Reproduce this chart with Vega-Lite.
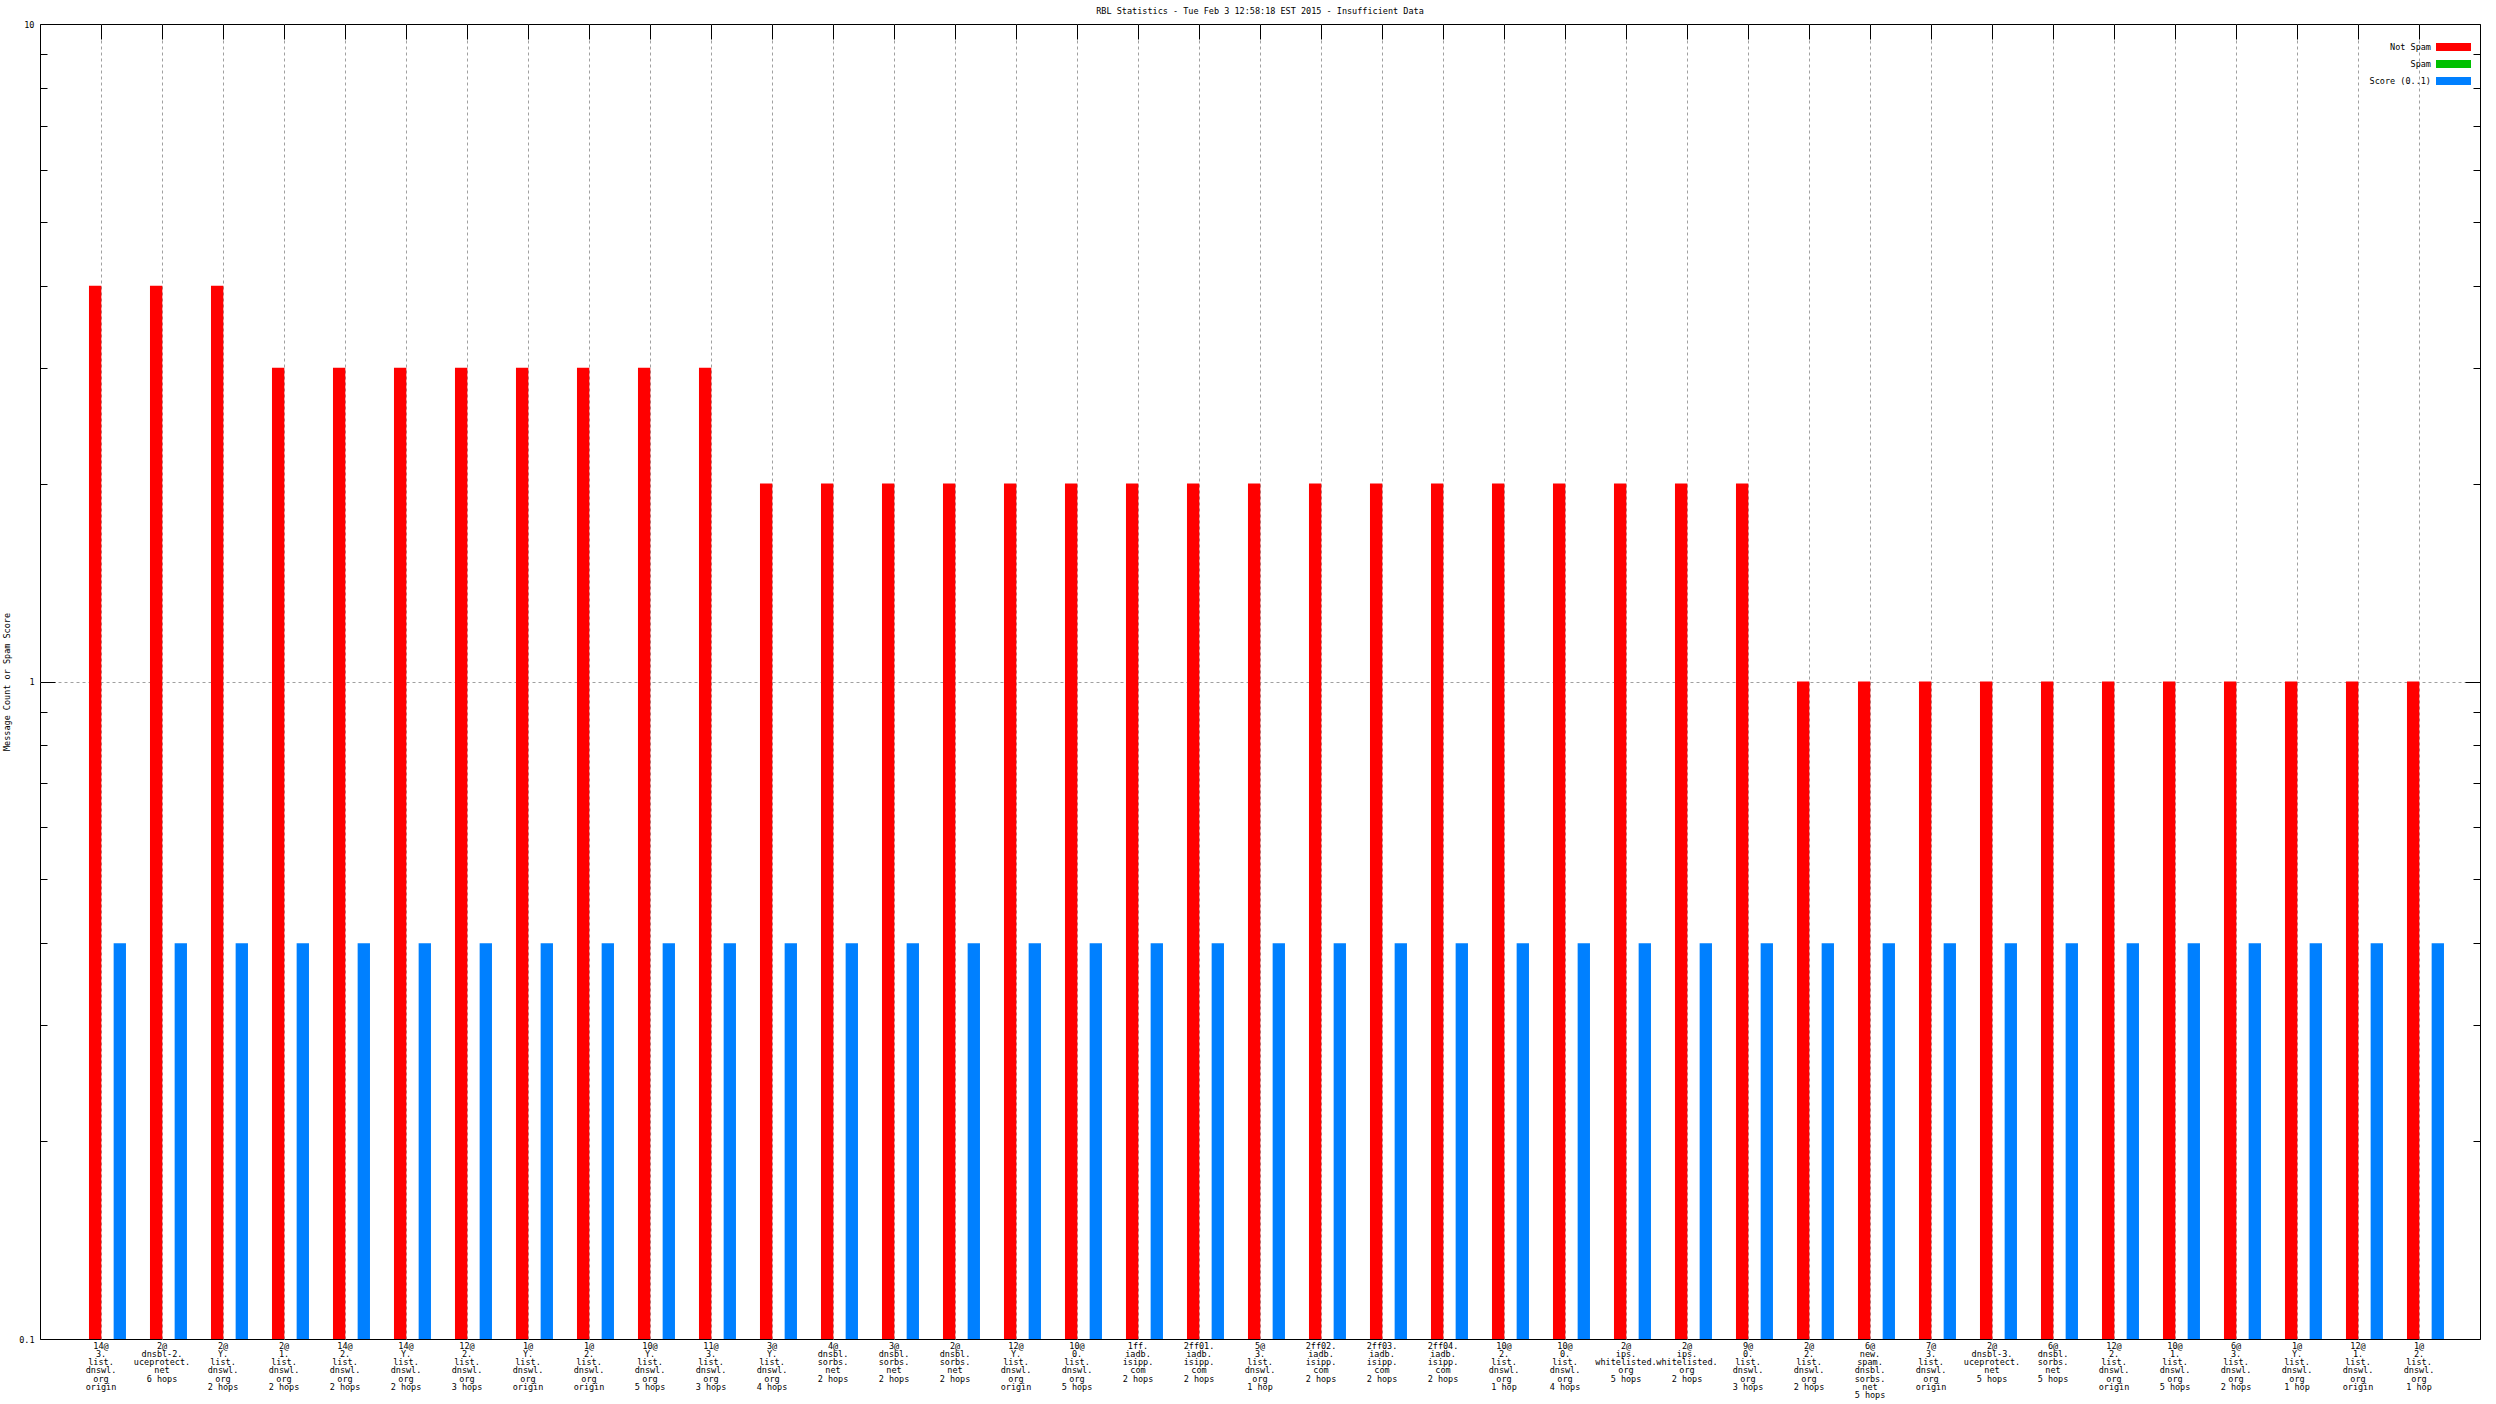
{
  "$schema": "https://vega.github.io/schema/vega-lite/v6.json",
  "width": 2440,
  "height": 1315,
  "autosize": {"type": "none"},
  "padding": {"left": 40, "top": 24, "right": 16, "bottom": 65},
  "background": "white",
  "config": {
    "view": {"stroke": "black", "strokeWidth": 1},
    "font": "DejaVu Sans Mono",
    "axis": {"labelFont": "DejaVu Sans Mono", "labelFontSize": 8.5, "labelColor": "black", "titleFont": "DejaVu Sans Mono", "titleFontSize": 8.5, "titleFontWeight": "normal", "titleColor": "black"},
    "legend": {"labelFont": "DejaVu Sans Mono", "labelFontSize": 8.5, "labelColor": "black"}
  },
  "title": {"text": "RBL Statistics - Tue Feb  3 12:58:18 EST 2015 - Insufficient Data", "anchor": "middle", "font": "DejaVu Sans Mono", "fontSize": 8.5, "fontWeight": "normal", "color": "black", "offset": 9, "dy": 11, "baseline": "alphabetic"},
  "data": {"values": [
    {"host": "14@|3.|list.|dnswl.|org|origin", "series": "Not Spam", "value": 4},
    {"host": "14@|3.|list.|dnswl.|org|origin", "series": "Score (0..1)", "value": 0.4},
    {"host": "2@|dnsbl-2.|uceprotect.|net|6 hops", "series": "Not Spam", "value": 4},
    {"host": "2@|dnsbl-2.|uceprotect.|net|6 hops", "series": "Score (0..1)", "value": 0.4},
    {"host": "2@|Y.|list.|dnswl.|org|2 hops", "series": "Not Spam", "value": 4},
    {"host": "2@|Y.|list.|dnswl.|org|2 hops", "series": "Score (0..1)", "value": 0.4},
    {"host": "2@|1.|list.|dnswl.|org|2 hops", "series": "Not Spam", "value": 3},
    {"host": "2@|1.|list.|dnswl.|org|2 hops", "series": "Score (0..1)", "value": 0.4},
    {"host": "14@|2.|list.|dnswl.|org|2 hops", "series": "Not Spam", "value": 3},
    {"host": "14@|2.|list.|dnswl.|org|2 hops", "series": "Score (0..1)", "value": 0.4},
    {"host": "14@|Y.|list.|dnswl.|org|2 hops", "series": "Not Spam", "value": 3},
    {"host": "14@|Y.|list.|dnswl.|org|2 hops", "series": "Score (0..1)", "value": 0.4},
    {"host": "12@|2.|list.|dnswl.|org|3 hops", "series": "Not Spam", "value": 3},
    {"host": "12@|2.|list.|dnswl.|org|3 hops", "series": "Score (0..1)", "value": 0.4},
    {"host": "1@|Y.|list.|dnswl.|org|origin", "series": "Not Spam", "value": 3},
    {"host": "1@|Y.|list.|dnswl.|org|origin", "series": "Score (0..1)", "value": 0.4},
    {"host": "1@|2.|list.|dnswl.|org|origin", "series": "Not Spam", "value": 3},
    {"host": "1@|2.|list.|dnswl.|org|origin", "series": "Score (0..1)", "value": 0.4},
    {"host": "10@|Y.|list.|dnswl.|org|5 hops", "series": "Not Spam", "value": 3},
    {"host": "10@|Y.|list.|dnswl.|org|5 hops", "series": "Score (0..1)", "value": 0.4},
    {"host": "11@|3.|list.|dnswl.|org|3 hops", "series": "Not Spam", "value": 3},
    {"host": "11@|3.|list.|dnswl.|org|3 hops", "series": "Score (0..1)", "value": 0.4},
    {"host": "3@|Y.|list.|dnswl.|org|4 hops", "series": "Not Spam", "value": 2},
    {"host": "3@|Y.|list.|dnswl.|org|4 hops", "series": "Score (0..1)", "value": 0.4},
    {"host": "4@|dnsbl.|sorbs.|net|2 hops", "series": "Not Spam", "value": 2},
    {"host": "4@|dnsbl.|sorbs.|net|2 hops", "series": "Score (0..1)", "value": 0.4},
    {"host": "3@|dnsbl.|sorbs.|net|2 hops", "series": "Not Spam", "value": 2},
    {"host": "3@|dnsbl.|sorbs.|net|2 hops", "series": "Score (0..1)", "value": 0.4},
    {"host": "2@|dnsbl.|sorbs.|net|2 hops", "series": "Not Spam", "value": 2},
    {"host": "2@|dnsbl.|sorbs.|net|2 hops", "series": "Score (0..1)", "value": 0.4},
    {"host": "12@|Y.|list.|dnswl.|org|origin", "series": "Not Spam", "value": 2},
    {"host": "12@|Y.|list.|dnswl.|org|origin", "series": "Score (0..1)", "value": 0.4},
    {"host": "10@|0.|list.|dnswl.|org|5 hops", "series": "Not Spam", "value": 2},
    {"host": "10@|0.|list.|dnswl.|org|5 hops", "series": "Score (0..1)", "value": 0.4},
    {"host": "1ff.|iadb.|isipp.|com|2 hops", "series": "Not Spam", "value": 2},
    {"host": "1ff.|iadb.|isipp.|com|2 hops", "series": "Score (0..1)", "value": 0.4},
    {"host": "2ff01.|iadb.|isipp.|com|2 hops", "series": "Not Spam", "value": 2},
    {"host": "2ff01.|iadb.|isipp.|com|2 hops", "series": "Score (0..1)", "value": 0.4},
    {"host": "5@|3.|list.|dnswl.|org|1 hop", "series": "Not Spam", "value": 2},
    {"host": "5@|3.|list.|dnswl.|org|1 hop", "series": "Score (0..1)", "value": 0.4},
    {"host": "2ff02.|iadb.|isipp.|com|2 hops", "series": "Not Spam", "value": 2},
    {"host": "2ff02.|iadb.|isipp.|com|2 hops", "series": "Score (0..1)", "value": 0.4},
    {"host": "2ff03.|iadb.|isipp.|com|2 hops", "series": "Not Spam", "value": 2},
    {"host": "2ff03.|iadb.|isipp.|com|2 hops", "series": "Score (0..1)", "value": 0.4},
    {"host": "2ff04.|iadb.|isipp.|com|2 hops", "series": "Not Spam", "value": 2},
    {"host": "2ff04.|iadb.|isipp.|com|2 hops", "series": "Score (0..1)", "value": 0.4},
    {"host": "10@|2.|list.|dnswl.|org|1 hop", "series": "Not Spam", "value": 2},
    {"host": "10@|2.|list.|dnswl.|org|1 hop", "series": "Score (0..1)", "value": 0.4},
    {"host": "10@|0.|list.|dnswl.|org|4 hops", "series": "Not Spam", "value": 2},
    {"host": "10@|0.|list.|dnswl.|org|4 hops", "series": "Score (0..1)", "value": 0.4},
    {"host": "2@|ips.|whitelisted.|org|5 hops", "series": "Not Spam", "value": 2},
    {"host": "2@|ips.|whitelisted.|org|5 hops", "series": "Score (0..1)", "value": 0.4},
    {"host": "2@|ips.|whitelisted.|org|2 hops", "series": "Not Spam", "value": 2},
    {"host": "2@|ips.|whitelisted.|org|2 hops", "series": "Score (0..1)", "value": 0.4},
    {"host": "9@|0.|list.|dnswl.|org|3 hops", "series": "Not Spam", "value": 2},
    {"host": "9@|0.|list.|dnswl.|org|3 hops", "series": "Score (0..1)", "value": 0.4},
    {"host": "2@|2.|list.|dnswl.|org|2 hops", "series": "Not Spam", "value": 1},
    {"host": "2@|2.|list.|dnswl.|org|2 hops", "series": "Score (0..1)", "value": 0.4},
    {"host": "6@|new.|spam.|dnsbl.|sorbs.|net|5 hops", "series": "Not Spam", "value": 1},
    {"host": "6@|new.|spam.|dnsbl.|sorbs.|net|5 hops", "series": "Score (0..1)", "value": 0.4},
    {"host": "7@|3.|list.|dnswl.|org|origin", "series": "Not Spam", "value": 1},
    {"host": "7@|3.|list.|dnswl.|org|origin", "series": "Score (0..1)", "value": 0.4},
    {"host": "2@|dnsbl-3.|uceprotect.|net|5 hops", "series": "Not Spam", "value": 1},
    {"host": "2@|dnsbl-3.|uceprotect.|net|5 hops", "series": "Score (0..1)", "value": 0.4},
    {"host": "6@|dnsbl.|sorbs.|net|5 hops", "series": "Not Spam", "value": 1},
    {"host": "6@|dnsbl.|sorbs.|net|5 hops", "series": "Score (0..1)", "value": 0.4},
    {"host": "12@|2.|list.|dnswl.|org|origin", "series": "Not Spam", "value": 1},
    {"host": "12@|2.|list.|dnswl.|org|origin", "series": "Score (0..1)", "value": 0.4},
    {"host": "10@|1.|list.|dnswl.|org|5 hops", "series": "Not Spam", "value": 1},
    {"host": "10@|1.|list.|dnswl.|org|5 hops", "series": "Score (0..1)", "value": 0.4},
    {"host": "6@|3.|list.|dnswl.|org|2 hops", "series": "Not Spam", "value": 1},
    {"host": "6@|3.|list.|dnswl.|org|2 hops", "series": "Score (0..1)", "value": 0.4},
    {"host": "1@|Y.|list.|dnswl.|org|1 hop", "series": "Not Spam", "value": 1},
    {"host": "1@|Y.|list.|dnswl.|org|1 hop", "series": "Score (0..1)", "value": 0.4},
    {"host": "12@|1.|list.|dnswl.|org|origin", "series": "Not Spam", "value": 1},
    {"host": "12@|1.|list.|dnswl.|org|origin", "series": "Score (0..1)", "value": 0.4},
    {"host": "1@|2.|list.|dnswl.|org|1 hop", "series": "Not Spam", "value": 1},
    {"host": "1@|2.|list.|dnswl.|org|1 hop", "series": "Score (0..1)", "value": 0.4}
  ]},
  "layer": [
    {
      "mark": {"type": "bar"},
      "encoding": {
        "x": {"field": "host", "type": "nominal", "sort": null,
          "scale": {"paddingInner": 0, "paddingOuter": 0.5},
          "axis": {"orient": "bottom", "domain": false, "ticks": false, "grid": false, "labelAngle": 0, "labelAlign": "center", "labelBaseline": "top", "labelPadding": 2, "labelLineHeight": 8.3, "labelExpr": "split(datum.value, '|')", "labelOverlap": false, "title": null}},
        "xOffset": {"field": "series", "type": "nominal",
          "scale": {"domain": ["Not Spam", "Spam", "Score (0..1)"], "paddingInner": 0, "paddingOuter": 0.973, "align": 0.77}},
        "y": {"field": "value", "type": "quantitative", "stack": null,
          "scale": {"type": "log", "domain": [0.1, 10], "nice": false},
          "axis": {"orient": "left", "values": [0.1, 0.2, 0.3, 0.4, 0.5, 0.6, 0.7, 0.8, 0.9, 1, 2, 3, 4, 5, 6, 7, 8, 9, 10],
            "domain": false, "grid": true, "gridColor": "#a0a0a0", "gridDash": [3, 3],
            "gridOpacity": {"condition": {"test": "datum.value == 1", "value": 1}, "value": 0},
            "tickColor": "black", "tickWidth": 1,
            "tickSize": {"condition": {"test": "datum.value == 1", "value": -15}, "value": -7},
            "labelPadding": {"condition": {"test": "datum.value == 1", "value": 21}, "value": 13},
            "labelExpr": "datum.value == 0.1 ? '0.1' : datum.value == 1 ? '1' : datum.value == 10 ? '10' : ''",
            "labelOverlap": false, "labelFlush": false,
            "title": "Message Count or Spam Score", "titleX": -34, "titleY": 657.5, "titleAngle": 270, "titleAlign": "center", "titleBaseline": "middle"}},
        "color": {"field": "series", "type": "nominal",
          "scale": {"domain": ["Not Spam", "Spam", "Score (0..1)"], "range": ["#ff0000", "#00c000", "#0080ff"]},
          "legend": {"title": null, "orient": "none", "legendX": 2329, "legendY": 18, "padding": 0,
            "symbolType": "M-3.5,-0.8H3.5V0.8H-3.5Z", "symbolSize": 100, "symbolStrokeWidth": 0, "rowPadding": 7,
            "encode": {"symbols": {"update": {"x": {"value": 84.5}}}, "labels": {"update": {"x": {"value": 62}, "align": {"value": "right"}}}}}}
      }
    },
    {
      "mark": {"type": "point", "opacity": 0},
      "encoding": {
        "x": {"field": "host", "type": "nominal", "sort": null,
          "axis": {"orient": "top", "domain": false, "labels": false, "ticks": true, "tickSize": -15, "tickColor": "black", "tickWidth": 1, "grid": true, "gridColor": "#a0a0a0", "gridDash": [3, 3], "title": null}},
        "y": {"field": "value", "type": "quantitative", "stack": null,
          "axis": {"orient": "right", "values": [0.1, 0.2, 0.3, 0.4, 0.5, 0.6, 0.7, 0.8, 0.9, 1, 2, 3, 4, 5, 6, 7, 8, 9, 10],
            "domain": false, "grid": false, "labels": false, "tickColor": "black", "tickWidth": 1,
            "tickSize": {"condition": {"test": "datum.value == 1", "value": -15}, "value": -7},
            "title": null}}
      }
    }
  ],
  "resolve": {"axis": {"x": "independent", "y": "independent"}}
}
